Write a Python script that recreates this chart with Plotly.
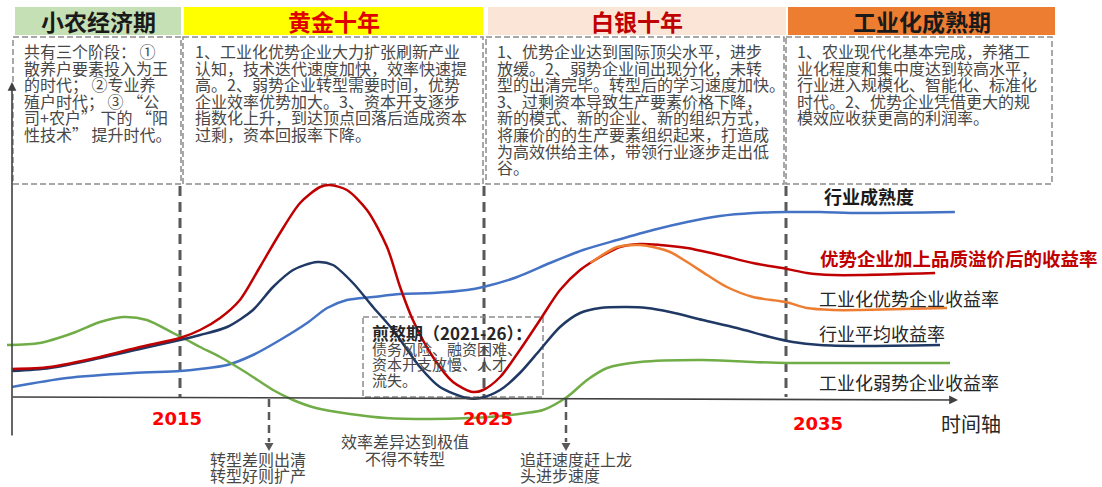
import plotly.graph_objects as go

# ---------------- data ----------------
# industry maturity (blue)
maturity_years = [2009.47, 2011.28, 2013.45, 2015.0, 2015.66, 2016.55, 2017.40, 2018.29, 2019.18,
                  2019.84, 2020.49, 2021.35, 2022.24, 2023.32, 2024.44, 2024.97, 2026.09, 2027.17,
                  2028.26, 2029.38, 2030.56, 2031.68, 2032.76, 2033.85, 2034.97, 2036.05, 2037.37, 2040.49]
maturity_index = [5, 9.5, 12, 13, 14, 16, 21, 28.5, 37, 44.5, 48.5, 50, 51.5, 52, 53.5, 55, 60, 67,
                  73.5, 78.5, 83.5, 87.5, 90.5, 92, 92.5, 92.5, 92, 92.5]

# leaders' return incl. quality premium (red)
premium_years = [2009.47, 2010.72, 2012.37, 2013.68, 2015.0, 2015.66, 2016.32, 2016.97, 2017.63,
                 2018.29, 2018.95, 2019.61, 2019.93, 2020.49, 2021.15, 2021.81, 2022.24, 2022.66,
                 2023.32, 2023.98, 2024.64, 2024.97, 2025.53, 2026.18, 2026.84, 2027.5, 2028.16,
                 2028.82, 2029.47, 2030.13, 2030.79, 2031.68, 2032.76, 2033.85, 2034.97, 2035.62,
                 2036.48, 2037.37, 2039.84]
premium_rate = [14, 15, 20, 25, 29.5, 33.5, 39.5, 48.5, 65, 82, 97, 105, 106, 103.5, 93.5, 75, 55,
                38.5, 20, 7.5, 2.5, 3.5, 10, 23.5, 38.5, 53.5, 63.5, 70, 75, 76.5, 76, 74.5, 71, 67,
                64, 62, 61, 61, 62]

# industrialised leaders' return (orange)
leader_years = [2028.5, 2029.38, 2030.13, 2030.56, 2031.12, 2031.68, 2032.34, 2032.99, 2033.85,
                2034.93, 2035.62, 2036.48, 2037.37, 2040.23]
leader_rate = [67, 75, 76, 75, 72.5, 67.5, 61, 55, 50, 47.5, 44.5, 43.5, 43.5, 44.5]

# industry average return (navy)
avg_years = [2009.47, 2010.72, 2012.37, 2013.68, 2015.0, 2015.66, 2016.55, 2017.40, 2018.06,
             2018.72, 2019.51, 2020.03, 2020.69, 2021.35, 2022.01, 2022.89, 2023.55, 2024.44,
             2024.87, 2025.53, 2026.18, 2026.84, 2027.5, 2028.16, 2028.82, 2029.70, 2030.36,
             2031.12, 2032.20, 2033.32, 2034.41, 2035.16, 2036.05, 2037.37, 2040.0]
avg_rate = [13, 14.5, 19.5, 24, 28.5, 31, 35, 43.5, 55, 63.5, 67.5, 66, 57, 45, 33.5, 15, 5, -0.5,
            -0.5, 3.5, 12, 23.5, 35, 42, 44.5, 45, 44.5, 42.5, 38.5, 34.5, 30, 27.5, 26, 25.5, 26]

# industrialised laggards' return (green)
laggard_years = [2009.31, 2010.39, 2011.48, 2012.37, 2013.13, 2013.91, 2014.77, 2015.23, 2015.66,
                 2016.32, 2017.20, 2018.06, 2018.72, 2019.47, 2020.59, 2021.78, 2023.22, 2024.54,
                 2025.53, 2026.38, 2026.94, 2027.73, 2028.39, 2029.05, 2030.13, 2032.20, 2033.85,
                 2034.97, 2037.37, 2040.33]
laggard_rate = [26, 27, 32, 37.5, 40, 38.5, 32, 28.5, 25, 20, 12, 3.5, -1.5, -5.5, -8.5, -10.5,
                -11, -10.5, -9.5, -8, -6.5, 0, 8.5, 14.5, 17.5, 18.5, 17.5, 17, 17, 17]

year_ticks = ["2015", "2025", "2035"]

stage_names = ["小农经济期", "黄金十年", "白银十年", "工业化成熟期"]
stage_notes = [
    ["共有三个阶段： ①", "散养户要素投入为王", "的时代； ②专业养", "殖户时代； ③ “公",
     "司+农户” 下的 “阳", "性技术” 提升时代。"],
    ["1、工业化优势企业大力扩张刷新产业", "认知，技术迭代速度加快，效率快速提",
     "高。2、弱势企业转型需要时间，优势", "企业效率优势加大。3、资本开支逐步",
     "指数化上升，到达顶点回落后造成资本", "过剩，资本回报率下降。"],
    ["1、优势企业达到国际顶尖水平，进步", "放缓。2、弱势企业间出现分化，未转",
     "型的出清完毕。转型后的学习速度加快。", "3、过剩资本导致生产要素价格下降，",
     "新的模式、新的企业、新的组织方式，", "将廉价的的生产要素组织起来，打造成",
     "为高效供给主体，带领行业逐步走出低", "谷。"],
    ["1、农业现代化基本完成，养猪工", "业化程度和集中度达到较高水平，",
     "行业进入规模化、智能化、标准化", "时代。2、优势企业凭借更大的规",
     "模效应收获更高的利润率。"],
]
pain_title = "煎熬期（2021-26）："
pain_notes = ["债务风险、融资困难、", "资本开支放慢、人才", "流失。"]

series_labels = ["行业成熟度", "优势企业加上品质溢价后的收益率", "工业化优势企业收益率",
                 "行业平均收益率", "工业化弱势企业收益率"]
callouts = [["转型差则出清", "转型好则扩产"], ["效率差异达到极值", "不得不转型"],
            ["追赶速度赶上龙", "头进步速度"]]
axis_title = "时间轴"

# ---------------- geometry helpers (screen px -> data units) ----------------
W, H = 1102, 487


def X(px):
    return 2015 + (px - 180) / 30.4


def Y(py):
    return (397 - py) / 2


CJK = "Noto Sans CJK SC"
TXT = "#474747"

fig = go.Figure()

curves = [
    (maturity_years, maturity_index, "#4472c4"),
    (laggard_years, laggard_rate, "#70ad47"),
    (avg_years, avg_rate, "#1f3864"),
    (premium_years, premium_rate, "#c00000"),
    (leader_years, leader_rate, "#ed7d31"),
]
for xs, ys, col in curves:
    fig.add_trace(go.Scatter(x=xs, y=ys, mode="lines",
                             line=dict(color=col, width=2.5, shape="spline", smoothing=0.8),
                             hoverinfo="skip", showlegend=False))

shapes = []
annotations = []

# stage headers and note boxes
header_spans = [(15, 181), (184, 483), (488, 786), (788, 1055)]
header_fill = ["#c5e0b4", "#ffff00", "#fbe5d6", "#ed7d31"]
header_color = ["#1a1a1a", "#e00000", "#c00000", "#1a1a1a"]
box_spans = [(13, 181), (183, 483), (486, 784), (786, 1052)]
text_left = [22, 193, 495, 795]

for i in range(4):
    x0, x1 = header_spans[i]
    shapes.append(dict(type="rect", xref="x", yref="y", x0=X(x0), x1=X(x1), y0=Y(7), y1=Y(35),
                       fillcolor=header_fill[i], line=dict(width=0), layer="below"))
    annotations.append(dict(xref="x", yref="y", x=X((x0 + x1) / 2), y=Y(21), text="<b>%s</b>" % stage_names[i],
                            showarrow=False, font=dict(family=CJK, size=23, color=header_color[i])))
    b0, b1 = box_spans[i]
    shapes.append(dict(type="rect", xref="x", yref="y", x0=X(b0), x1=X(b1), y0=Y(37), y1=Y(184),
                       line=dict(color="#8c8c8c", width=1.5, dash="6px,3px"), layer="below"))
    for j, line in enumerate(stage_notes[i]):
        annotations.append(dict(xref="x", yref="y", x=X(text_left[i]), y=Y(51 + 16.6 * j), text=line,
                                showarrow=False, xanchor="left", yanchor="middle",
                                font=dict(family=CJK, size=16, color=TXT)))

# stage dividers down to the time axis
for px in [180, 484, 786]:
    shapes.append(dict(type="line", xref="x", yref="y", x0=X(px), x1=X(px), y0=Y(186), y1=Y(397),
                       line=dict(color="#595959", width=3, dash="10px,6px"), layer="below"))

# pain-period box
shapes.append(dict(type="rect", xref="x", yref="y", x0=X(363), x1=X(543), y0=Y(317), y1=Y(397),
                   line=dict(color="#8c8c8c", width=1.5, dash="6px,3px"), layer="below"))
annotations.append(dict(xref="x", yref="y", x=X(370), y=Y(332), text="<b>%s</b>" % pain_title,
                        showarrow=False, xanchor="left", yanchor="middle",
                        font=dict(family=CJK, size=17, color="#262626")))
for j, line in enumerate(pain_notes):
    annotations.append(dict(xref="x", yref="y", x=X(370), y=Y(348 + 15.5 * j), text=line,
                            showarrow=False, xanchor="left", yanchor="middle",
                            font=dict(family=CJK, size=15, color=TXT)))

# axes with arrowheads
annotations.append(dict(xref="x", yref="y", axref="x", ayref="y", x=X(958), y=Y(400),
                        ax=X(11), ay=Y(397), text="", showarrow=True, arrowhead=2, arrowsize=1.1,
                        arrowwidth=1.6, arrowcolor="#404040", standoff=0))
annotations.append(dict(xref="x", yref="y", axref="x", ayref="y", x=X(12), y=Y(82),
                        ax=X(12), ay=Y(437), text="", showarrow=True, arrowhead=2, arrowsize=1.1,
                        arrowwidth=1.6, arrowcolor="#404040", standoff=0))

# year labels
for txt, cx, cy in zip(year_ticks, [177, 488, 818], [418, 418, 423]):
    annotations.append(dict(xref="x", yref="y", x=X(cx), y=Y(cy), text="<b>%s</b>" % txt,
                            showarrow=False, font=dict(family="DejaVu Sans", size=18, color="#ff0000")))
annotations.append(dict(xref="x", yref="y", x=X(939), y=Y(423), text=axis_title, showarrow=False,
                        xanchor="left", yanchor="middle", font=dict(family=CJK, size=20, color="#262626")))

# series labels
label_y = [196, 258, 298, 333, 382]
label_x = [822, 818, 817, 817, 817]
for k, txt in enumerate(series_labels):
    if k == 0:
        t, col = "<b>%s</b>" % txt, "#1a1a1a"
    elif k == 1:
        t, col = "<b>%s</b>" % txt, "#c00000"
    else:
        t, col = txt, "#262626"
    annotations.append(dict(xref="x", yref="y", x=X(label_x[k]), y=Y(label_y[k]), text=t,
                            showarrow=False, xanchor="left", yanchor="middle",
                            font=dict(family=CJK, size=18.5 if k == 1 else 18, color=col)))

# downward dashed pointers under the axis
for px in [269, 566]:
    shapes.append(dict(type="line", xref="x", yref="y", x0=X(px), x1=X(px), y0=Y(399), y1=Y(442),
                       line=dict(color="#595959", width=2.5, dash="8px,5px")))
    shapes.append(dict(type="path", xref="x", yref="y",
                       path="M %f,%f L %f,%f L %f,%f Z" % (X(px - 4.5), Y(443), X(px + 4.5), Y(443), X(px), Y(451)),
                       fillcolor="#595959", line=dict(width=0)))

# callout texts
for j, line in enumerate(callouts[0]):
    annotations.append(dict(xref="x", yref="y", x=X(258), y=Y(459 + 15.5 * j), text=line, showarrow=False,
                            font=dict(family=CJK, size=16, color=TXT)))
for j, line in enumerate(callouts[1]):
    annotations.append(dict(xref="x", yref="y", x=X(405), y=Y(441 + 17 * j), text=line, showarrow=False,
                            font=dict(family=CJK, size=16, color=TXT)))
for j, line in enumerate(callouts[2]):
    annotations.append(dict(xref="x", yref="y", x=X(518), y=Y(459 + 15.5 * j), text=line, showarrow=False,
                            xanchor="left", font=dict(family=CJK, size=16, color=TXT)))

fig.update_layout(
    width=W, height=H,
    margin=dict(l=0, r=0, t=0, b=0),
    paper_bgcolor="white", plot_bgcolor="white",
    xaxis=dict(range=[X(0), X(W)], visible=False, fixedrange=True),
    yaxis=dict(range=[Y(H), Y(0)], visible=False, fixedrange=True),
    shapes=shapes, annotations=annotations, showlegend=False,
)

fig.write_html("out.html")
